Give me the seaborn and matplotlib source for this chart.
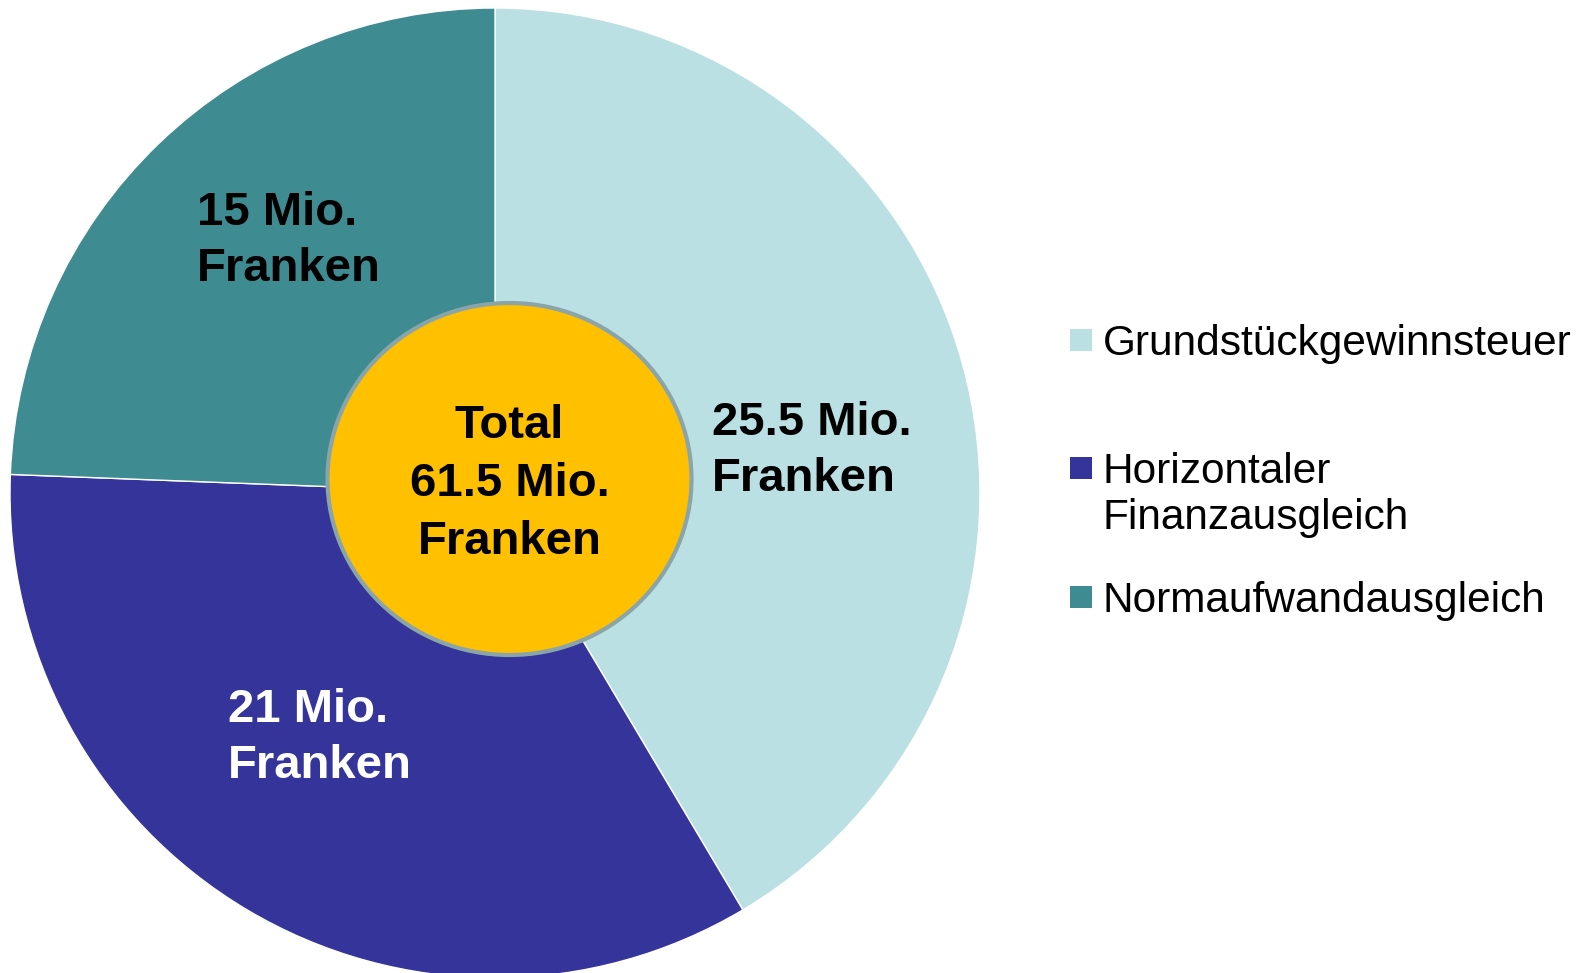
import matplotlib
matplotlib.use("Agg")
import matplotlib.pyplot as plt
from matplotlib.patches import Ellipse, Rectangle
import seaborn as sns

categories = ["Grundstückgewinnsteuer", "Horizontaler\nFinanzausgleich", "Normaufwandausgleich"]
values = [25.5, 21, 15]
total = 61.5
labels = ["25.5 Mio.\nFranken", "21 Mio.\nFranken", "15 Mio.\nFranken"]
colors = ["#BAE0E3", "#35349A", "#3E8B91"]
label_colors = ["black", "white", "black"]

sns.set_theme(style="white")
plt.rcParams['font.family'] = ['Liberation Sans', 'DejaVu Sans']

W, H = 1588, 973
fig = plt.figure(figsize=(W / 100, H / 100), dpi=100)
ax = fig.add_axes([0, 0, 1, 1])


def Y(y):
    return H - y


ax.pie(values, colors=colors, startangle=90, counterclock=False,
       center=(495, Y(493)), radius=485,
       wedgeprops=dict(linewidth=1, edgecolor="white"))
ax.set_xlim(0, W)
ax.set_ylim(0, H)
ax.set_aspect("equal")
ax.axis("off")

# inner total circle
ax.add_patch(Ellipse((509.5, Y(479)), 364, 352, facecolor="#FFC000",
                     edgecolor="#8AA5AA", linewidth=3, zorder=5))
ax.text(509.5, Y(484), f"Total\n{total:g} Mio.\nFranken", ha="center", va="center",
        fontsize=34, fontweight="bold", color="black", zorder=6, linespacing=1.4)

# segment labels
label_pos = [(712, 451), (228, 738), (197, 241)]
for (x, y), t, c in zip(label_pos, labels, label_colors):
    ax.text(x, Y(y), t, ha="left", va="center", fontsize=34, fontweight="bold",
            color=c, linespacing=1.33, zorder=6)

# legend
leg_y = [340, 468, 597]
for y, name, col in zip(leg_y, categories, colors):
    ax.add_patch(Rectangle((1070, Y(y) - 11), 22, 22, facecolor=col, edgecolor="none"))
    ax.text(1103, Y(y - 16), name, ha="left", va="top", fontsize=30.5, color="black",
            linespacing=1.2)

fig.savefig("out.png", dpi=100)
